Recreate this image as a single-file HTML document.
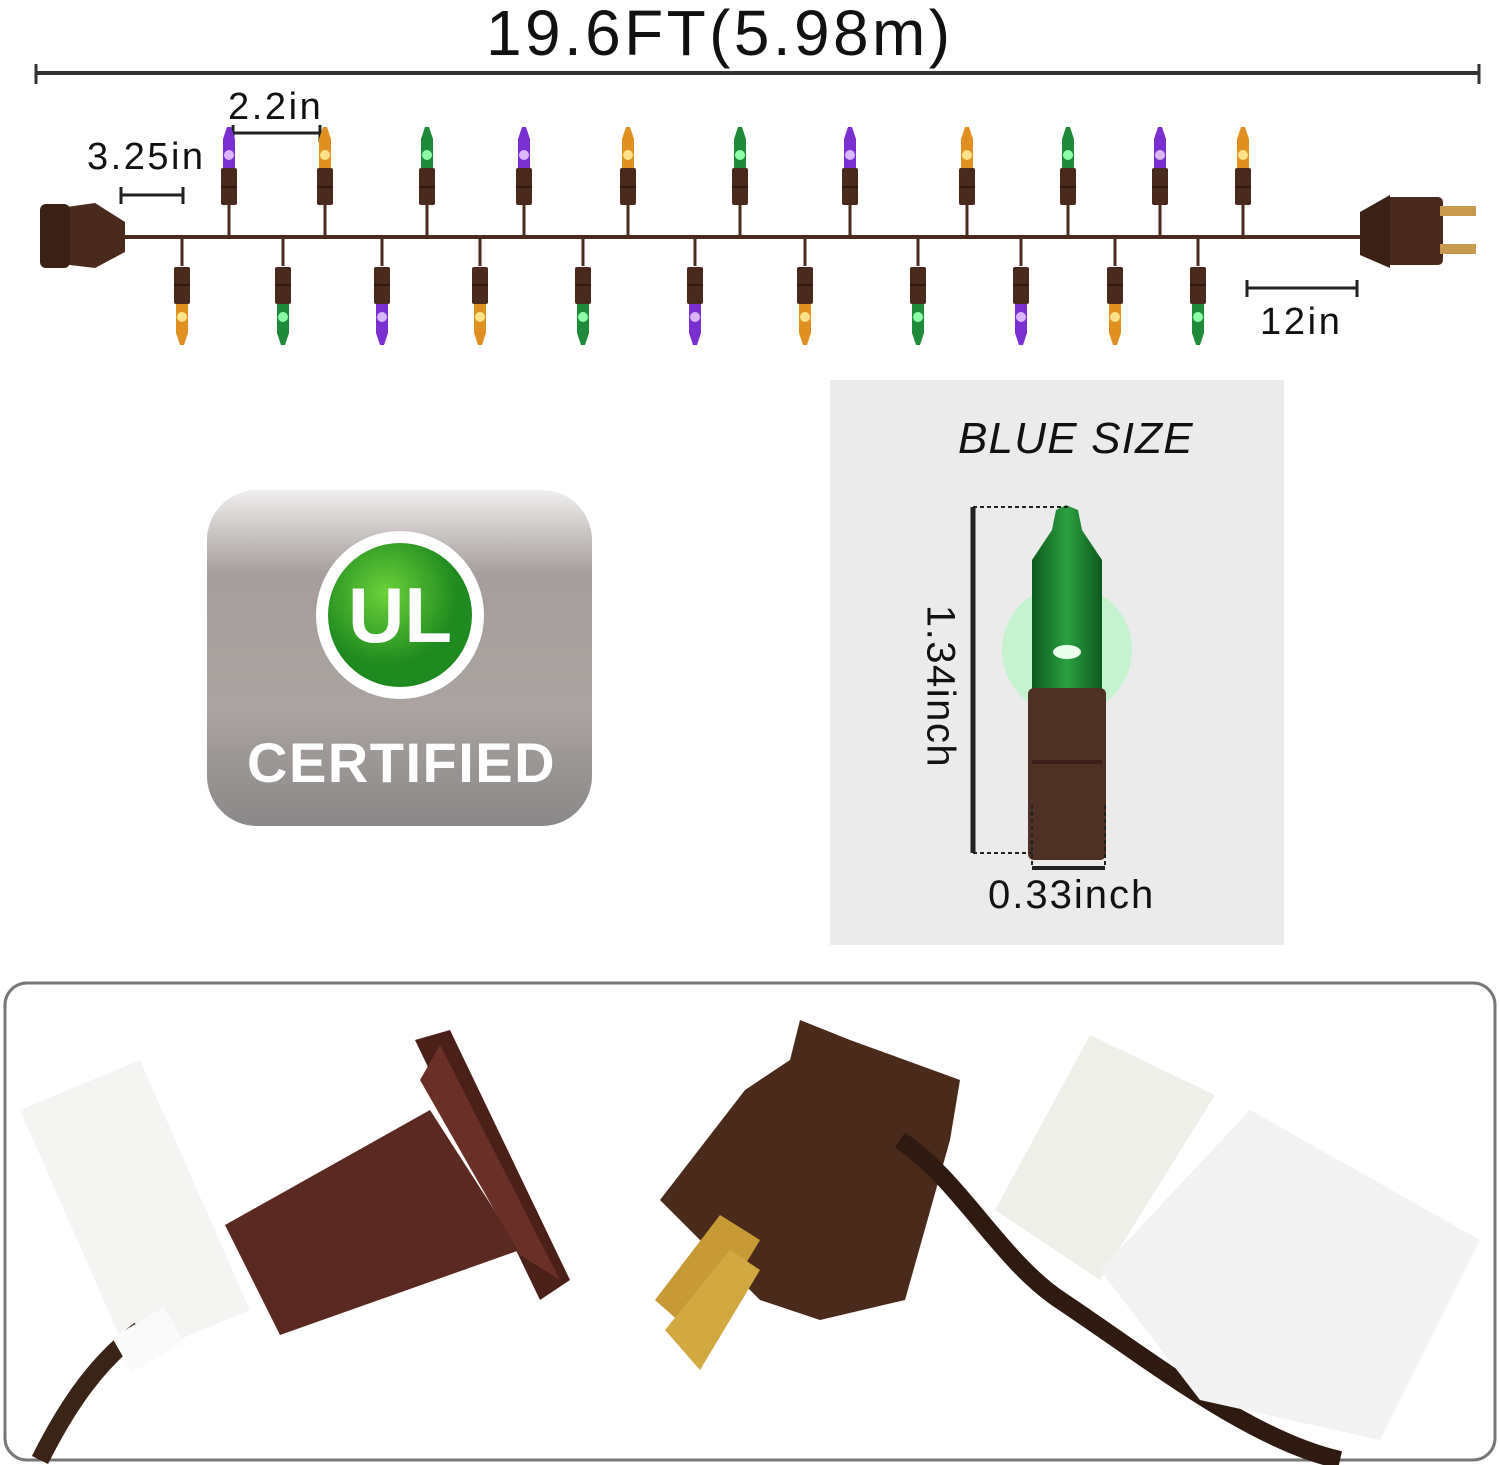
<!DOCTYPE html>
<html><head><meta charset="utf-8"><style>
body{margin:0;width:1500px;height:1465px;background:#fff;position:relative;overflow:hidden;font-family:"Liberation Sans",sans-serif}
.t{position:absolute;color:#111;white-space:nowrap}
</style></head><body>
<svg width="1500" height="1465" style="position:absolute;left:0;top:0">
<defs>
<g id="sock"><rect x="-8" y="0" width="16" height="37" rx="2" fill="#4a2a1c"/><rect x="-8" y="18" width="16" height="2" fill="#2e1810"/></g>
<g id="bP"><path d="M-6,41 L-6,12 L-2,0 L2,0 L6,12 L6,41Z" fill="#7a2fd0"/><circle cx="0" cy="28" r="5" fill="#d9b6ff"/></g>
<g id="bO"><path d="M-6,41 L-6,12 L-2,0 L2,0 L6,12 L6,41Z" fill="#e09020"/><circle cx="0" cy="28" r="5" fill="#ffe28a"/></g>
<g id="bG"><path d="M-6,41 L-6,12 L-2,0 L2,0 L6,12 L6,41Z" fill="#1f8a3a"/><circle cx="0" cy="28" r="5" fill="#8dffa8"/></g>
</defs>
<line x1="36" y1="73" x2="1479" y2="73" stroke="#333" stroke-width="4"/>
<line x1="36" y1="64" x2="36" y2="84" stroke="#333" stroke-width="3"/>
<line x1="1479" y1="64" x2="1479" y2="84" stroke="#333" stroke-width="3"/>
<g stroke="#222" stroke-width="3"><line x1="121" y1="195" x2="183" y2="195"/><line x1="121" y1="187" x2="121" y2="204"/><line x1="183" y1="187" x2="183" y2="204"/>
<line x1="233" y1="133" x2="320" y2="133"/><line x1="233" y1="125" x2="233" y2="142"/><line x1="320" y1="125" x2="320" y2="142"/>
<line x1="1247" y1="288" x2="1357" y2="288"/><line x1="1247" y1="280" x2="1247" y2="297"/><line x1="1357" y1="280" x2="1357" y2="297"/></g>
<line x1="120" y1="237" x2="1362" y2="237" stroke="#4a2a1c" stroke-width="4"/>
<g stroke="#4a2a1c" stroke-width="3">
<line x1="229" y1="205" x2="229" y2="237"/><line x1="325" y1="205" x2="325" y2="237"/><line x1="427" y1="205" x2="427" y2="237"/><line x1="524" y1="205" x2="524" y2="237"/><line x1="628" y1="205" x2="628" y2="237"/><line x1="740" y1="205" x2="740" y2="237"/><line x1="850" y1="205" x2="850" y2="237"/><line x1="967" y1="205" x2="967" y2="237"/><line x1="1068" y1="205" x2="1068" y2="237"/><line x1="1160" y1="205" x2="1160" y2="237"/><line x1="1243" y1="205" x2="1243" y2="237"/>
<line x1="182" y1="237" x2="182" y2="266"/><line x1="283" y1="237" x2="283" y2="266"/><line x1="382" y1="237" x2="382" y2="266"/><line x1="480" y1="237" x2="480" y2="266"/><line x1="583" y1="237" x2="583" y2="266"/><line x1="695" y1="237" x2="695" y2="266"/><line x1="805" y1="237" x2="805" y2="266"/><line x1="918" y1="237" x2="918" y2="266"/><line x1="1021" y1="237" x2="1021" y2="266"/><line x1="1115" y1="237" x2="1115" y2="266"/><line x1="1198" y1="237" x2="1198" y2="266"/>
</g>
<g transform="translate(229,127)"><use href="#bP"/><use href="#sock" y="41"/></g>
<g transform="translate(325,127)"><use href="#bO"/><use href="#sock" y="41"/></g>
<g transform="translate(427,127)"><use href="#bG"/><use href="#sock" y="41"/></g>
<g transform="translate(524,127)"><use href="#bP"/><use href="#sock" y="41"/></g>
<g transform="translate(628,127)"><use href="#bO"/><use href="#sock" y="41"/></g>
<g transform="translate(740,127)"><use href="#bG"/><use href="#sock" y="41"/></g>
<g transform="translate(850,127)"><use href="#bP"/><use href="#sock" y="41"/></g>
<g transform="translate(967,127)"><use href="#bO"/><use href="#sock" y="41"/></g>
<g transform="translate(1068,127)"><use href="#bG"/><use href="#sock" y="41"/></g>
<g transform="translate(1160,127)"><use href="#bP"/><use href="#sock" y="41"/></g>
<g transform="translate(1243,127)"><use href="#bO"/><use href="#sock" y="41"/></g>
<g transform="translate(182,345) scale(1,-1)"><use href="#bO"/><use href="#sock" y="41"/></g>
<g transform="translate(283,345) scale(1,-1)"><use href="#bG"/><use href="#sock" y="41"/></g>
<g transform="translate(382,345) scale(1,-1)"><use href="#bP"/><use href="#sock" y="41"/></g>
<g transform="translate(480,345) scale(1,-1)"><use href="#bO"/><use href="#sock" y="41"/></g>
<g transform="translate(583,345) scale(1,-1)"><use href="#bG"/><use href="#sock" y="41"/></g>
<g transform="translate(695,345) scale(1,-1)"><use href="#bP"/><use href="#sock" y="41"/></g>
<g transform="translate(805,345) scale(1,-1)"><use href="#bO"/><use href="#sock" y="41"/></g>
<g transform="translate(918,345) scale(1,-1)"><use href="#bG"/><use href="#sock" y="41"/></g>
<g transform="translate(1021,345) scale(1,-1)"><use href="#bP"/><use href="#sock" y="41"/></g>
<g transform="translate(1115,345) scale(1,-1)"><use href="#bO"/><use href="#sock" y="41"/></g>
<g transform="translate(1198,345) scale(1,-1)"><use href="#bG"/><use href="#sock" y="41"/></g>
<path d="M45,210 L95,203 L125,222 L125,252 L95,268 L45,262 Z" fill="#4a2a1c"/>
<rect x="40" y="204" width="30" height="64" rx="6" fill="#3a2015"/>
<rect x="1385" y="197" width="58" height="68" rx="5" fill="#4a2a1c"/>
<path d="M1360,212 L1390,195 L1390,268 L1360,255Z" fill="#3a2015"/>
<rect x="1440" y="206" width="36" height="10" fill="#c89a50"/><rect x="1440" y="244" width="36" height="10" fill="#c89a50"/>
<defs><linearGradient id="ug" x1="0" y1="0" x2="0" y2="1"><stop offset="0" stop-color="#f0eeee"/><stop offset=".25" stop-color="#a59e9c"/><stop offset=".65" stop-color="#aaa3a0"/><stop offset="1" stop-color="#8a8888"/></linearGradient>
<radialGradient id="gg" cx=".4" cy=".35"><stop offset="0" stop-color="#6cd23a"/><stop offset="1" stop-color="#1f8a1f"/></radialGradient>
<linearGradient id="glass" x1="0" x2="1"><stop offset="0" stop-color="#0d5a1e"/><stop offset=".5" stop-color="#2aa040"/><stop offset="1" stop-color="#0d5a1e"/></linearGradient></defs>
<rect x="207" y="490" width="385" height="336" rx="50" fill="url(#ug)"/>
<circle cx="400" cy="615" r="84" fill="#fff"/>
<circle cx="400" cy="615" r="72" fill="url(#gg)"/>
<text x="400" y="642" text-anchor="middle" font-family="Liberation Sans" font-weight="bold" font-size="78" fill="#fff">UL</text>
<rect x="830" y="380" width="454" height="565" fill="#ebebeb"/>
<circle cx="1067" cy="650" r="65" fill="#7dff9a" opacity=".35"/>
<path d="M1032,690 L1032,560 L1052,530 L1056,510 L1066,505 L1078,510 L1082,530 L1102,560 L1102,690Z" fill="url(#glass)"/>
<ellipse cx="1067" cy="652" rx="14" ry="7" fill="#eaffee"/>
<rect x="1028" y="688" width="78" height="172" rx="6" fill="#4e3024"/>
<rect x="1032" y="760" width="70" height="4" fill="#3a2018"/>
<line x1="973" y1="507" x2="973" y2="853" stroke="#222" stroke-width="5"/>
<line x1="973" y1="507" x2="1070" y2="507" stroke="#222" stroke-width="2" stroke-dasharray="4,3"/>
<line x1="973" y1="853" x2="1032" y2="853" stroke="#222" stroke-width="2" stroke-dasharray="4,3"/>
<line x1="1032" y1="805" x2="1032" y2="868" stroke="#222" stroke-width="2" stroke-dasharray="4,3"/>
<line x1="1105" y1="805" x2="1105" y2="868" stroke="#222" stroke-width="2" stroke-dasharray="4,3"/>
<line x1="1032" y1="868" x2="1105" y2="868" stroke="#222" stroke-width="4"/>
<rect x="5" y="983" width="1490" height="477" rx="22" fill="#fff" stroke="#777" stroke-width="3"/>
<path d="M20,1110 L140,1060 L250,1310 L130,1360Z" fill="#f4f4f2"/>
<path d="M40,1460 C70,1400 100,1360 140,1330" stroke="#3a2418" stroke-width="18" fill="none"/>
<rect x="118" y="1320" width="60" height="40" fill="#fafafa" transform="rotate(-30 148 1340)"/>
<path d="M225,1225 L430,1110 L520,1250 L280,1335 Z" fill="#5a2a22"/>
<path d="M415,1040 L450,1030 L570,1280 L540,1300 Z" fill="#4a2018"/>
<path d="M440,1045 L560,1280 L520,1255 L420,1080Z" fill="#6a3028"/>
<path d="M660,1200 L745,1090 L790,1060 L800,1020 L850,1040 L960,1080 L950,1140 L905,1300 L820,1320 L760,1300 Z" fill="#4a2a1a"/>
<path d="M655,1300 L720,1215 L760,1240 L700,1340Z" fill="#c89a35"/>
<path d="M665,1330 L730,1250 L760,1270 L700,1370Z" fill="#d2a840"/>
<path d="M900,1140 C960,1180 1000,1260 1060,1300 C1150,1360 1250,1440 1340,1460" stroke="#2e1a10" stroke-width="18" fill="none"/>
<path d="M995,1210 L1090,1035 L1215,1095 L1100,1280Z" fill="#efefea"/>
<path d="M1100,1270 L1250,1110 L1480,1240 L1380,1440 L1200,1400Z" fill="#f2f2f2"/>
</svg>
<div class="t" style="left:486px;top:-4px;font-size:64px;letter-spacing:3.4px;">19.6FT(5.98m)</div>
<div class="t" style="left:87px;top:136px;font-size:38px;letter-spacing:2.5px;">3.25in</div>
<div class="t" style="left:228px;top:86px;font-size:38px;letter-spacing:2.6px;">2.2in</div>
<div class="t" style="left:1260px;top:301px;font-size:38px;letter-spacing:2.7px;">12in</div>
<div class="t" style="left:247px;top:730px;font-size:56px;font-weight:bold;color:#fff;letter-spacing:1.5px;">CERTIFIED</div>
<div class="t" style="left:958px;top:414px;font-size:44px;font-style:italic;letter-spacing:1.2px;">BLUE SIZE</div>
<div class="t" style="left:855px;top:664px;font-size:40px;transform:rotate(90deg);transform-origin:center;width:170px;text-align:center;letter-spacing:1.5px;">1.34inch</div>
<div class="t" style="left:988px;top:873px;font-size:40px;letter-spacing:2px;">0.33inch</div>
</body></html>
